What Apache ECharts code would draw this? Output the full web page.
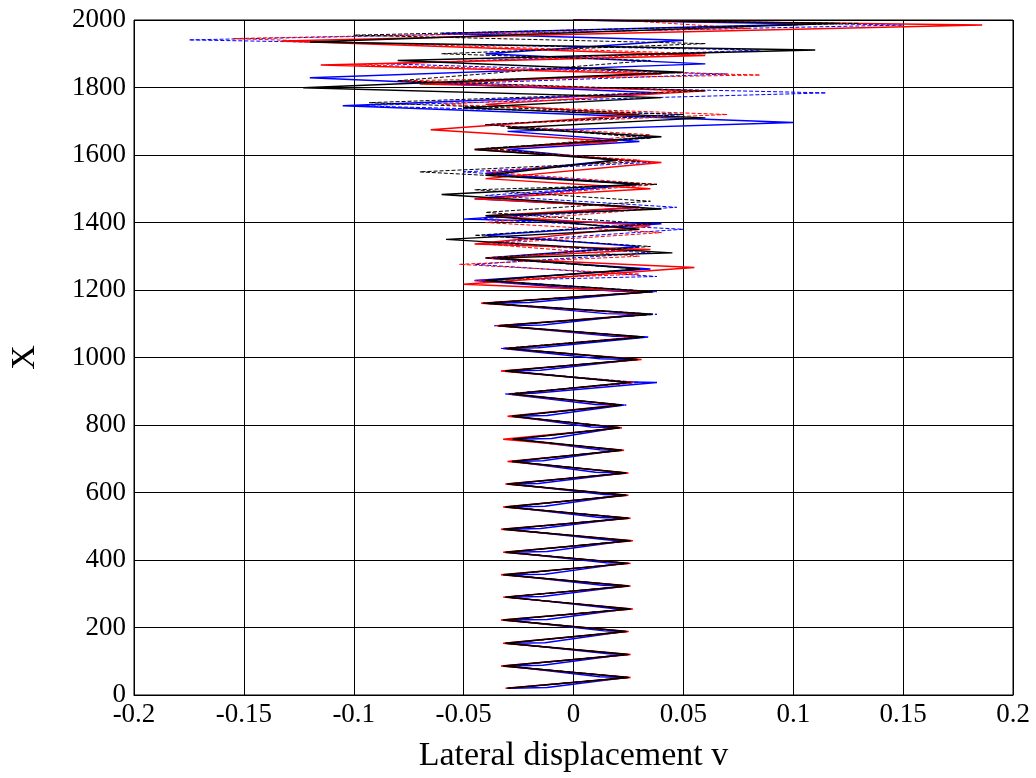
<!DOCTYPE html>
<html>
<head>
<meta charset="utf-8">
<script src="https://cdn.jsdelivr.net/npm/echarts@6/dist/echarts.min.js"></script>
<style>html,body{margin:0;padding:0;background:#fff;}#c{width:1036px;height:778px;}</style>
</head>
<body>
<div id="c"></div>
<script>
// Shared X positions of the lower zigzag peaks
var xLow = [20,52,86,120,153,188,222,255,290,323,356,390,423,457,491,524,557,592,625,658,692,725,758,792,826,859,892,926,960,994,1027,1061,1094,1128,1161,1195];
// X positions of the small "shoulder" kinks of the blue solid curve just after each peak
var xShoulder = [22,54,88,122,155,190,224,257,292,325,358,392,425,459,493,526,559,594,627,660,694,727,760,794,828,861,894,928,962,996,1029,1063,1096,1130,1163,1197];

// Lateral displacement at those peaks, per series
var blueSolidLow  = [-0.028,0.024,-0.030,0.023,-0.029,0.023,-0.030,0.024,-0.029,0.024,-0.030,0.023,-0.029,0.024,-0.030,0.023,-0.029,0.022,-0.028,0.023,-0.027,0.020,-0.026,0.020,-0.027,0.023,-0.030,0.038,-0.030,0.028,-0.032,0.034,-0.033,0.030,-0.038,0.034];
var blueSolidShoulder = [-0.012,0.012,-0.014,0.016,-0.013,0.014,-0.012,0.017,-0.014,0.013,-0.013,0.015,-0.012,0.016,-0.015,0.012,-0.013,0.014,-0.016,0.010,-0.014,0.012,-0.010,0.008,-0.012,0.010,-0.018,0.022,-0.015,0.012,-0.016,0.018,-0.014,0.015,-0.020,0.018];
var blueDashLow   = [-0.029,0.025,-0.031,0.024,-0.030,0.024,-0.031,0.025,-0.030,0.025,-0.031,0.024,-0.030,0.025,-0.031,0.024,-0.030,0.023,-0.029,0.024,-0.028,0.021,-0.027,0.021,-0.028,0.024,-0.031,0.030,-0.032,0.030,-0.033,0.033,-0.036,0.038,-0.042,0.038];
var redSolidLow   = [-0.031,0.026,-0.033,0.026,-0.032,0.025,-0.033,0.027,-0.032,0.026,-0.033,0.026,-0.032,0.027,-0.033,0.026,-0.032,0.025,-0.031,0.025,-0.030,0.023,-0.032,0.022,-0.030,0.021,-0.029,0.027,-0.033,0.031,-0.031,0.030,-0.035,0.034,-0.042,0.035];
var redDashLow    = [-0.030,0.025,-0.032,0.025,-0.031,0.025,-0.032,0.026,-0.031,0.025,-0.032,0.025,-0.031,0.026,-0.032,0.025,-0.031,0.024,-0.030,0.024,-0.029,0.022,-0.028,0.022,-0.029,0.022,-0.028,0.026,-0.031,0.030,-0.030,0.031,-0.034,0.035,-0.041,0.036];
var blackSolidLow = [-0.030,0.025,-0.032,0.025,-0.031,0.024,-0.032,0.026,-0.031,0.025,-0.032,0.025,-0.031,0.026,-0.032,0.025,-0.031,0.024,-0.030,0.024,-0.028,0.022,-0.027,0.021,-0.028,0.022,-0.028,0.025,-0.031,0.029,-0.030,0.032,-0.034,0.036,-0.040,0.036];
var blackDashLow  = [-0.030,0.025,-0.031,0.025,-0.031,0.024,-0.031,0.025,-0.031,0.025,-0.031,0.025,-0.030,0.025,-0.031,0.025,-0.030,0.024,-0.030,0.024,-0.028,0.022,-0.028,0.021,-0.028,0.022,-0.029,0.026,-0.031,0.029,-0.031,0.031,-0.034,0.035,-0.041,0.036];

// Upper, irregular part: [v, X] pairs per series
var blueSolidHigh  = [[-0.045,1228],[0.035,1262],[-0.040,1295],[0.030,1329],[-0.040,1362],[0.040,1396],[-0.050,1410],[0.030,1445],[-0.045,1470],[0.030,1513],[-0.040,1545],[0.020,1585],[-0.030,1616],[0.030,1640],[-0.030,1670],[0.100,1696],[-0.105,1746],[0.040,1784],[-0.120,1829],[0.060,1870],[-0.040,1900],[0.050,1940],[-0.060,1960],[0.108,1988],[0.000,2000]];
var blueDashHigh   = [[-0.040,1228],[0.038,1240],[-0.045,1276],[0.035,1310],[-0.040,1340],[0.050,1380],[-0.045,1410],[0.047,1445],[-0.040,1480],[0.030,1513],[-0.050,1550],[0.035,1578],[-0.040,1616],[0.035,1654],[-0.040,1690],[0.050,1720],[-0.100,1746],[0.115,1784],[-0.060,1810],[0.070,1840],[-0.085,1870],[0.085,1911],[-0.175,1941],[0.150,1985],[0.010,2000]];
var redSolidHigh   = [[-0.050,1217],[0.055,1267],[-0.040,1295],[0.035,1320],[-0.045,1336],[0.035,1390],[-0.040,1420],[0.030,1445],[-0.045,1470],[0.035,1500],[-0.040,1530],[0.040,1578],[-0.045,1616],[0.020,1640],[-0.065,1675],[0.030,1720],[-0.040,1750],[0.060,1790],[-0.070,1810],[0.040,1840],[-0.115,1867],[0.060,1895],[-0.133,1938],[0.186,1985],[0.000,2000]];
var redDashHigh    = [[-0.045,1228],[0.030,1247],[-0.052,1276],[0.030,1300],[-0.040,1336],[0.040,1370],[-0.040,1400],[0.035,1440],[-0.040,1470],[0.038,1513],[-0.040,1550],[0.030,1585],[-0.040,1616],[0.035,1660],[-0.040,1690],[0.070,1720],[-0.060,1750],[0.050,1790],[-0.080,1820],[0.085,1837],[-0.100,1867],[0.060,1900],[-0.155,1945],[0.080,1975],[0.020,2000]];
var blackSolidHigh = [[-0.040,1228],[0.030,1262],[-0.035,1295],[0.045,1310],[-0.058,1350],[0.030,1380],[-0.040,1420],[0.040,1440],[-0.060,1483],[0.030,1513],[-0.040,1540],[0.020,1585],[-0.045,1616],[0.040,1654],[-0.030,1680],[0.060,1710],[-0.050,1740],[0.040,1770],[-0.123,1799],[0.050,1845],[-0.080,1880],[0.110,1911],[-0.120,1935],[0.120,1990],[0.000,2000]];
var blackDashHigh  = [[-0.040,1228],[0.030,1262],[-0.040,1295],[0.035,1329],[-0.045,1362],[0.035,1396],[-0.040,1430],[0.035,1463],[-0.045,1497],[0.038,1513],[-0.070,1550],[0.030,1580],[-0.040,1620],[0.035,1650],[-0.040,1690],[0.050,1720],[-0.093,1755],[0.060,1790],[-0.080,1820],[0.035,1880],[-0.060,1900],[0.060,1930],[-0.100,1955],[0.130,1990],[0.000,2000]];

function build(low, high, shoulder) {
  var pts = [];
  for (var i = 0; i < xLow.length; i++) {
    pts.push([low[i], xLow[i]]);
    if (shoulder) pts.push([shoulder[i], xShoulder[i]]);
  }
  for (var j = 0; j < high.length; j++) pts.push([high[j][0], high[j][1]]);
  return pts;
}

var serif = 'Liberation Serif, Times New Roman, serif';
function line(name, data, color, dashed) {
  return {
    name: name, type: 'line', data: data, showSymbol: false, symbol: 'none',
    animation: false, silent: true,
    lineStyle: { color: color, width: dashed ? 1 : 1.5, type: dashed ? [4, 2] : 'solid' }
  };
}

var chart = echarts.init(document.getElementById('c'), null, { renderer: 'canvas' });
chart.setOption({
  backgroundColor: '#fff',
  animation: false,
  grid: { left: 133, right: 23, top: 20, bottom: 81, show: true, borderColor: '#000', borderWidth: 1 },
  xAxis: {
    type: 'value', min: -0.2, max: 0.2, interval: 0.05,
    name: 'Lateral displacement v', nameLocation: 'middle', nameGap: 44,
    nameTextStyle: { fontFamily: serif, fontSize: 34, color: '#000' },
    axisLine: { show: true, lineStyle: { color: '#000' } },
    axisTick: { show: true, inside: true, length: 5, lineStyle: { color: '#000' } },
    axisLabel: { fontFamily: serif, fontSize: 27, color: '#000', margin: 6,
      formatter: function (v) { var r = Math.round(v * 100) / 100; return String(r); } },
    splitLine: { show: true, lineStyle: { color: '#000', width: 1 } }
  },
  yAxis: {
    type: 'value', min: 0, max: 2000, interval: 200,
    name: 'X', nameLocation: 'middle', nameGap: 92, nameRotate: 90,
    nameTextStyle: { fontFamily: serif, fontSize: 34, color: '#000' },
    axisLine: { show: true, lineStyle: { color: '#000' } },
    axisTick: { show: true, inside: true, length: 5, lineStyle: { color: '#000' } },
    axisLabel: { fontFamily: serif, fontSize: 27, color: '#000', margin: 8,
      formatter: function (v) { return String(v); } },
    splitLine: { show: true, lineStyle: { color: '#000', width: 1 } }
  },
  series: [
    line('blue dashed', build(blueDashLow, blueDashHigh), '#0000ff', true),
    line('blue solid', build(blueSolidLow, blueSolidHigh, blueSolidShoulder), '#0000ff', false),
    line('red dashed', build(redDashLow, redDashHigh), '#ff0000', true),
    line('red solid', build(redSolidLow, redSolidHigh), '#ff0000', false),
    line('black dashed', build(blackDashLow, blackDashHigh), '#000000', true),
    line('black solid', build(blackSolidLow, blackSolidHigh), '#000000', false)
  ]
});
</script>
</body>
</html>
